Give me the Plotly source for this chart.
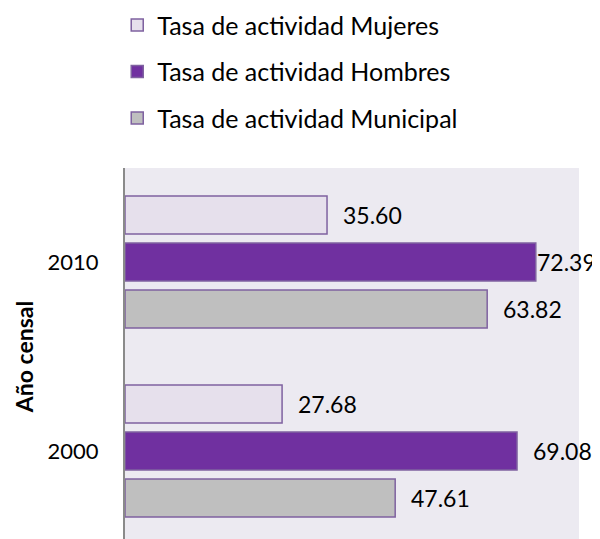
import plotly.graph_objects as go

# ---------------------------------------------------------------
# DATA
# ---------------------------------------------------------------
years = ["2000", "2010"]
series_names = [
    "Tasa de actividad Mujeres",
    "Tasa de actividad Hombres",
    "Tasa de actividad Municipal",
]
mujeres = [27.68, 35.60]
hombres = [69.08, 72.39]
municipal = [47.61, 63.82]

FONT = "Lato"
fill_colors = ["#E6E0EC", "#7030A0", "#BFBFBF"]
outline_color = "#7F62A0"
BARGAP = 0.254

fig = go.Figure()

# plotly stacks horizontal groups bottom-up, so add Municipal first
series = [
    (series_names[2], municipal, fill_colors[2], 3),
    (series_names[1], hombres, fill_colors[1], 2),
    (series_names[0], mujeres, fill_colors[0], 1),
]
for name, vals, color, rank in series:
    fig.add_trace(go.Bar(
        y=years,
        x=vals,
        orientation="h",
        name=name,
        legendgroup=name,
        legendrank=rank,
        marker=dict(color=color, line=dict(color=outline_color, width=1.5)),
        hoverinfo="x+name",
    ))

# data labels, placed a bit right of the bar end (Excel style)
slot = (1 - BARGAP) / len(series)
for i, (name, vals, color, rank) in enumerate(series):
    for j, v in enumerate(vals):
        offset = -(1 - BARGAP) / 2 + slot * (i + 0.5)
        fig.add_annotation(
            x=v, y=j + offset,
            text=f"{v:.2f}",
            showarrow=False,
            xanchor="left",
            yanchor="middle",
            xshift=-1 if v > 70 else 14,  # longest one is squeezed by the edge
            font=dict(family=FONT, size=23, color="#000000"),
        )

# axis title as annotation (axis title misplaces with autoexpand off)
fig.add_annotation(
    text="<b>Año censal</b>",
    xref="paper", yref="paper",
    x=-0.2225, y=0.49,
    xanchor="center", yanchor="middle",
    textangle=-90,
    showarrow=False,
    font=dict(family=FONT, size=23, color="#000000"),
)

# the page body adds an 8px offset, so the figure is 8px smaller
fig.update_layout(
    width=592,
    height=531,
    barmode="group",
    bargap=BARGAP,
    bargroupgap=0.19,
    paper_bgcolor="white",
    plot_bgcolor="#ECEAF1",
    font=dict(family=FONT, size=22, color="#000000"),
    margin=dict(l=117, r=21, t=160, b=0, autoexpand=False),
    showlegend=True,
    legend=dict(
        xref="container", yref="paper",
        x=0.1845, y=1.447,
        xanchor="left", yanchor="top",
        traceorder="grouped",
        tracegroupgap=11,
        font=dict(family=FONT, size=25),
        bgcolor="rgba(0,0,0,0)",
    ),
    xaxis=dict(
        range=[0, 80],
        visible=False,
    ),
    yaxis=dict(
        type="category",
        categoryarray=years,
        range=[-0.466, 1.497],
        showline=True,
        linecolor="#8A8A8A",
        linewidth=2,
        showgrid=False,
        zeroline=False,
        ticks="outside",
        ticklen=20,
        tickcolor="rgba(0,0,0,0)",
        tickfont=dict(family=FONT, size=22),
    ),
)

fig.write_html("out.html")
